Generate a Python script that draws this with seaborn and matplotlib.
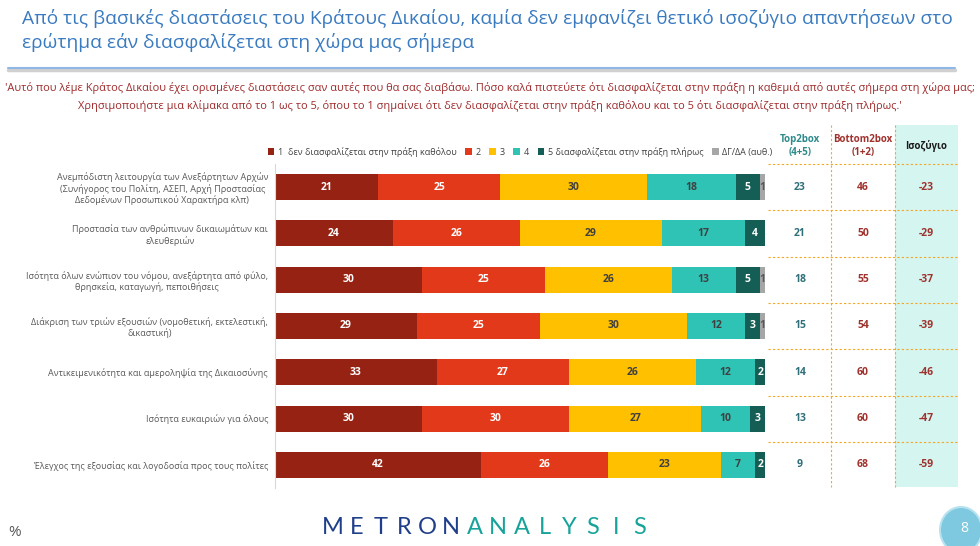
import numpy as np
import pandas as pd
import matplotlib.pyplot as plt
import seaborn as sns
from matplotlib.patches import Patch, Rectangle, Ellipse
from matplotlib.lines import Line2D
from matplotlib.transforms import blended_transform_factory

sns.set_style('white')
plt.rcParams['font.family'] = ['Open Sans', 'DejaVu Sans']

categories = [
    'Ανεμπόδιστη λειτουργία των Ανεξάρτητων Αρχών\n(Συνήγορος του Πολίτη, ΑΣΕΠ, Αρχή Προστασίας\nΔεδομένων Προσωπικού Χαρακτήρα κλπ)',
    'Προστασία των ανθρώπινων δικαιωμάτων και\nελευθεριών',
    'Ισότητα όλων ενώπιον του νόμου, ανεξάρτητα από φύλο,\nθρησκεία, καταγωγή, πεποιθήσεις',
    'Διάκριση των τριών εξουσιών (νομοθετική, εκτελεστική,\nδικαστική)',
    'Αντικειμενικότητα και αμεροληψία της Δικαιοσύνης',
    'Ισότητα ευκαιριών για όλους',
    'Έλεγχος της εξουσίας και λογοδοσία προς τους πολίτες',
]
s1 = [21, 24, 30, 29, 33, 30, 42]
s2 = [25, 26, 25, 25, 27, 30, 26]
s3 = [30, 29, 26, 30, 26, 27, 23]
s4 = [18, 17, 13, 12, 12, 10, 7]
s5 = [5, 4, 5, 3, 2, 3, 2]
dk = [1, 0, 1, 1, 0, 0, 0]

series_names = ['1  δεν διασφαλίζεται στην πράξη καθόλου', '2', '3', '4',
                '5 διασφαλίζεται στην πράξη πλήρως', 'ΔΓ/ΔΑ (αυθ.)']
colors = ['#952213', '#E2391A', '#FFC000', '#2EC3B5', '#145E55', '#A6A6A6']
text_colors = ['white', 'white', '#404040', '#404040', 'white', '#595959']

series = [s1, s2, s3, s4, s5, dk]
df = pd.DataFrame(dict(zip(range(6), series)), index=categories)
cum = df.cumsum(axis=1)

top2 = df[3] + df[4]
bottom2 = df[0] + df[1]
balance = top2 - bottom2

fig = plt.figure(figsize=(9.8, 5.46), dpi=100)
ax = fig.add_axes([275 / 980, 1 - 488 / 546, 490 / 980, 324 / 546])

# stacked bars: draw cumulative totals from the largest down
for i in reversed(range(6)):
    sns.barplot(x=cum[i].values, y=categories, orient='h', color=colors[i],
                width=0.56, saturation=1, linewidth=0, ax=ax)

for i in range(6):
    for r, cat in enumerate(categories):
        v = df.loc[cat, i]
        if v <= 0:
            continue
        xc = cum.loc[cat, i] - v / 2
        ax.text(xc, r, f'{v}', ha='center', va='center', fontsize=7.5,
                fontweight='bold', color=text_colors[i])

ax.set_xlim(0, 100)
ax.set_ylim(6.5, -0.5)
ax.set_xticks([])
ax.set_xlabel('')
ax.set_ylabel('')
for side in ['top', 'right', 'bottom']:
    ax.spines[side].set_visible(False)
ax.spines['left'].set_color('#D9D9D9')
ax.spines['left'].set_linewidth(0.8)
ax.tick_params(axis='y', length=0, pad=5)
for lab in ax.get_yticklabels():
    lab.set_fontsize(6.5)
    lab.set_color('#595959')
    lab.set_multialignment('center')

handles = [Patch(facecolor=c, edgecolor='none') for c in colors]
leg = ax.legend(handles, series_names, loc='lower center', bbox_to_anchor=(0.5, 1.0),
                ncol=6, frameon=False, fontsize=6.5, handlelength=0.7, handleheight=0.7,
                handletextpad=0.4, columnspacing=1.0, borderaxespad=0.4)
for t in leg.get_texts():
    t.set_color('#404040')

# table on the right
tr = blended_transform_factory(fig.transFigure, ax.transData)
fig.patches.append(Rectangle((895 / 980, 1 - 487 / 546), 63 / 980, 362 / 546,
                             transform=fig.transFigure, facecolor='#D5F5F0',
                             edgecolor='none', zorder=-5))
for xv in [831, 895]:
    fig.lines.append(Line2D([xv / 980, xv / 980], [1 - 125 / 546, 1 - 487 / 546],
                            transform=fig.transFigure, color='#F5A623',
                            linestyle=(0, (2, 2)), linewidth=0.8, zorder=-4))
for k in range(7):
    fig.lines.append(Line2D([768 / 980, 958 / 980],
                            [1 - (164 + k * 46.3) / 546] * 2,
                            transform=fig.transFigure, color='#F5A623',
                            linestyle=(0, (2, 2)), linewidth=0.8, zorder=-4))

hy = 1 - 146 / 546
fig.text(800 / 980, hy, 'Top2box\n(4+5)', ha='center', va='center', fontsize=7,
         fontweight='bold', color='#2E8B8B', linespacing=1.3)
fig.text(863 / 980, hy, 'Bottom2box\n(1+2)', ha='center', va='center', fontsize=7,
         fontweight='bold', color='#A0322E', linespacing=1.3)
fig.text(926 / 980, hy, 'Ισοζύγιο', ha='center', va='center', fontsize=7,
         fontweight='bold', color='#1A1A1A')
for r in range(7):
    ax.text(800 / 980, r, f'{top2.iloc[r]}', transform=tr, ha='center', va='center',
            fontsize=7.5, fontweight='bold', color='#2F6F7A', clip_on=False)
    ax.text(863 / 980, r, f'{bottom2.iloc[r]}', transform=tr, ha='center', va='center',
            fontsize=7.5, fontweight='bold', color='#A0322E', clip_on=False)
    ax.text(926 / 980, r, f'{balance.iloc[r]}', transform=tr, ha='center', va='center',
            fontsize=7.5, fontweight='bold', color='#A0322E', clip_on=False)

# titles
fig.text(22 / 980, 1 - 18 / 546,
         'Από τις βασικές διαστάσεις του Κράτους Δικαίου, καμία δεν εμφανίζει θετικό ισοζύγιο απαντήσεων στο',
         ha='left', va='center', fontsize=13.8, color='#3A7BC0')
fig.text(22 / 980, 1 - 42 / 546, 'ερώτημα εάν διασφαλίζεται στη χώρα μας σήμερα',
         ha='left', va='center', fontsize=13.8, color='#3A7BC0')
fig.lines.append(Line2D([8 / 980, 955 / 980], [1 - 70 / 546, 1 - 70 / 546],
                        transform=fig.transFigure, color='#D0D0D0', linewidth=2.5))
fig.lines.append(Line2D([8 / 980, 955 / 980], [1 - 68 / 546, 1 - 68 / 546],
                        transform=fig.transFigure, color='#8FB8E6', linewidth=1.5))

sub = ('\'Αυτό που λέμε Κράτος Δικαίου έχει ορισμένες διαστάσεις σαν αυτές που θα σας διαβάσω. '
       'Πόσο καλά πιστεύετε ότι διασφαλίζεται στην πράξη η καθεμιά από αυτές σήμερα στη χώρα μας;\n'
       'Χρησιμοποιήστε μια κλίμακα από το 1 ως το 5, όπου το 1 σημαίνει ότι δεν διασφαλίζεται '
       'στην πράξη καθόλου και το 5 ότι διασφαλίζεται στην πράξη πλήρως.\'')
fig.text(0.5, 1 - 97 / 546, sub, ha='center', va='center', fontsize=7.9,
         color='#9E2A2B', linespacing=1.6)

# footer
fig.text(8 / 980, 1 - 533 / 546, '%', ha='left', va='center', fontsize=11, color='#595959')
for k, ch in enumerate('METRONANALYSIS'):
    fig.text((333 + k * 23.6) / 980, 1 - 528 / 546, ch, ha='center', va='center',
             fontsize=17, family='Lato',
             color='#1F3F8A' if k < 6 else '#17A39A')
fig.patches.append(Ellipse((961 / 980, 1 - 530 / 546), 42 / 980, 46 / 546,
                           transform=fig.transFigure, facecolor='#7EC8E0',
                           edgecolor='#B8E2F0', linewidth=1.5))
fig.text(964 / 980, 1 - 528 / 546, '8', ha='center', va='center', fontsize=10,
         color='white')

fig.savefig('out.png', dpi=100)
